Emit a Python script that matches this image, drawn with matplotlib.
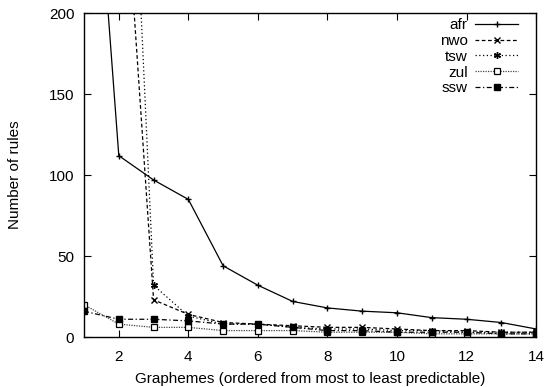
import matplotlib
matplotlib.use("Agg")
import matplotlib.pyplot as plt

# graphemes on x, number of rules per language
graphemes = list(range(1, 15))
afr = [400, 112, 97, 85, 44, 32, 22, 18, 16, 15, 12, 11, 9, 5]
nwo = [600, 340, 23, 14, 9, 8, 7, 6, 6, 5, 4, 4, 3, 3]
tsw = [700, 500, 32, 13, 8, 8, 6, 5, 5, 4, 4, 3, 3, 3]
zul = [20, 8, 6, 6, 4, 4, 4, 3, 3, 3, 2, 2, 2, 2]
ssw = [16, 11, 11, 10, 8, 8, 6, 4, 4, 3, 3, 3, 2, 2]

x_ticks = [2, 4, 6, 8, 10, 12, 14]
y_ticks = [0, 50, 100, 150, 200]

plt.rcParams['font.family'] = ['Liberation Sans', 'DejaVu Sans']
plt.rcParams['font.size'] = 11

fig = plt.figure(figsize=(5.51, 3.87), dpi=100)
ax = fig.add_axes([0.1525, 0.129, 0.8205, 0.837])

lw = 0.9
ax.plot(graphemes, afr, color='black', lw=lw, ls='-', marker='+', ms=5, label='afr')
ax.plot(graphemes, nwo, color='black', lw=lw, ls=(0, (3, 2)), marker='x', ms=4, label='nwo')
ax.plot(graphemes, tsw, color='black', lw=lw, ls=(0, (1, 2)), marker=(6, 2, 0), ms=5, label='tsw')
ax.plot(graphemes, zul, color='#444444', lw=lw, ls=(0, (1, 1)), marker='s', ms=4,
        mfc='white', mec='black', mew=0.9, label='zul')
ax.plot(graphemes, ssw, color='black', lw=lw, ls=(0, (4, 2, 1, 2)), marker='s', ms=4.5, label='ssw')

ax.set_xlim(1, 14)
ax.set_ylim(0, 200)
ax.set_xticks(x_ticks)
ax.set_yticks(y_ticks)
ax.tick_params(direction='in', length=5, width=0.8, top=True, right=True)
ax.tick_params(axis='x', pad=9)
ax.tick_params(axis='y', pad=7)
for s in ax.spines.values():
    s.set_linewidth(1.0)

ax.set_xlabel('Graphemes (ordered from most to least predictable)', fontsize=11, labelpad=6)
ax.set_ylabel('Number of rules', fontsize=11)
ax.yaxis.set_label_coords(-0.137, 0.5)

ax.legend(loc='upper right', bbox_to_anchor=(0.96, 0.985), frameon=False, markerfirst=False,
          handlelength=2.8, handletextpad=0.5, labelspacing=0.12, borderaxespad=0, borderpad=0)

fig.savefig('out.png', dpi=100)
